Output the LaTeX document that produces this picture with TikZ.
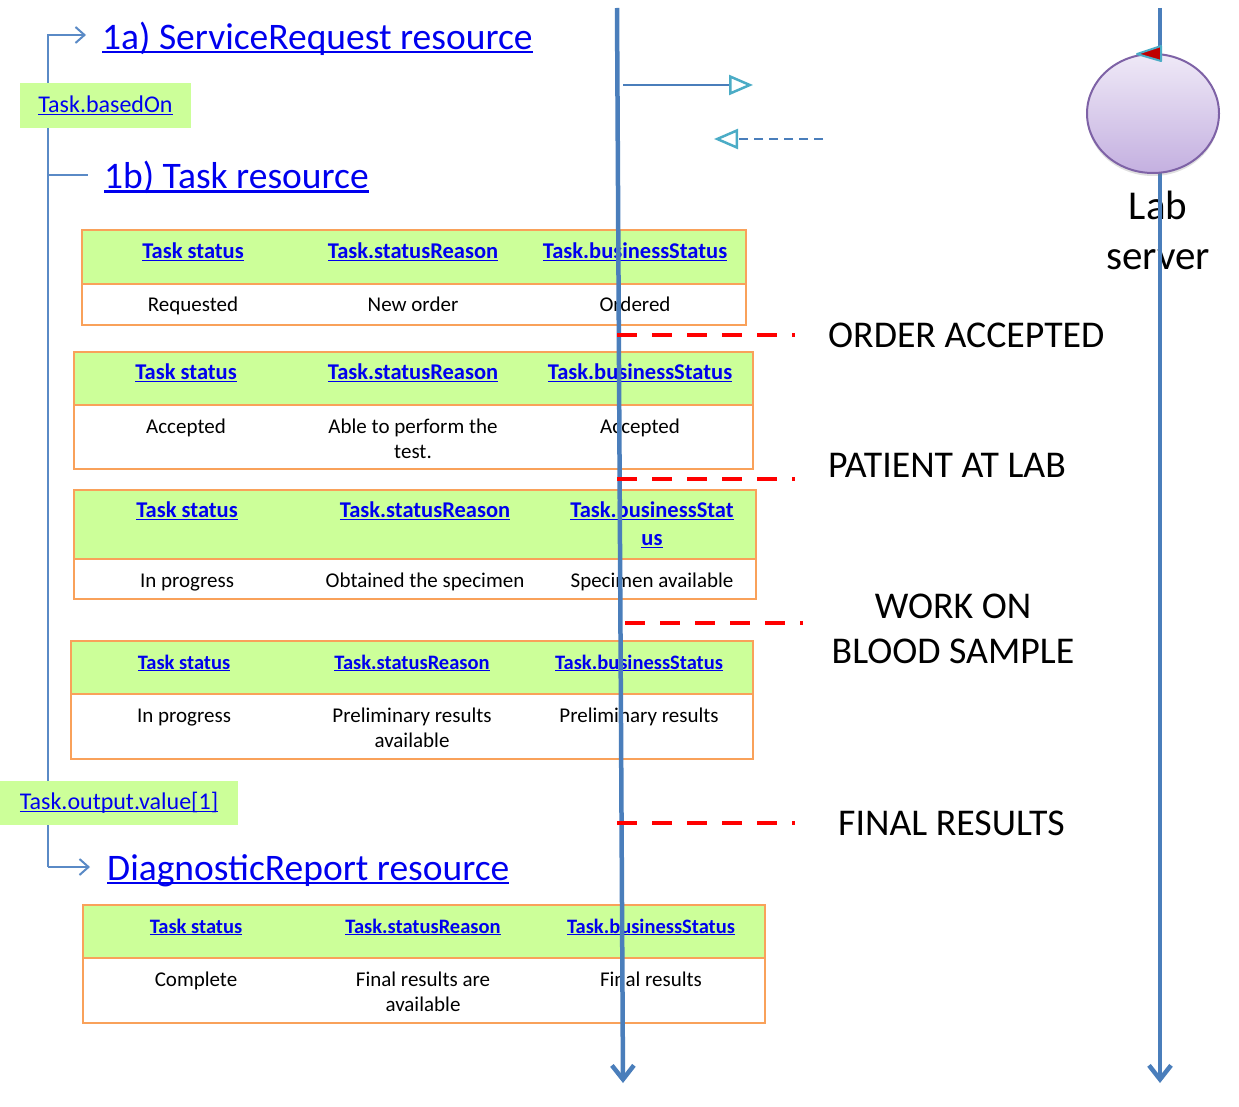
\documentclass[tikz,border=0pt]{standalone}
\usepackage{fontspec}
\setmainfont{Carlito}
\usetikzlibrary{arrows.meta,shapes.geometric,shadows}
\definecolor{lifeblue}{HTML}{4A7EBB}
\definecolor{treeblue}{HTML}{5A8AC6}
\definecolor{tipcyan}{HTML}{4BACC6}
\definecolor{linkblue}{HTML}{0000EE}
\definecolor{hdrgreen}{HTML}{CCFF99}
\definecolor{tblorange}{HTML}{F9A15A}
\definecolor{srvpurple}{HTML}{7E62A6}
\definecolor{srvtop}{HTML}{EFE9F7}
\definecolor{srvbot}{HTML}{C4B0E0}
\definecolor{tipred}{HTML}{C00000}
\newcommand{\lnk}[1]{\setbox0=\hbox{#1}\rlap{\rule[-0.11em]{\wd0}{0.065em}}\box0}
\newcommand{\ttlfont}{\fontsize{37.5}{45}\selectfont}
\newcommand{\reffont}{\fontsize{24}{29}\selectfont}
\newcommand{\hdrfont}{\fontsize{22.5}{28}\selectfont\bfseries}
\newcommand{\hdrsmall}{\fontsize{20.5}{25}\selectfont\bfseries}
\newcommand{\cellfont}{\fontsize{21}{25}\selectfont}
\newcommand{\phasefont}{\fontsize{37.8}{45}\selectfont}
\newcommand{\srvfont}{\fontsize{41}{50}\selectfont}
\begin{document}
\begin{tikzpicture}[x=1pt,y=-1pt,
  lifeline/.style={draw=lifeblue,line width=4.5pt,-{Straight Barb[length=14pt,width=22pt]}},
  treeline/.style={draw=treeblue,line width=2pt},
  treetip/.style={-{Straight Barb[length=9pt,width=16pt]}},
  msgline/.style={draw=lifeblue,line width=2.5pt,-{Triangle[length=24pt,width=20pt,color=tipcyan,fill=white,line width=2.5pt]}},
  phasedash/.style={draw=red,line width=4.5pt,dash pattern=on 20pt off 15pt},
  refbox/.style={fill=hdrgreen,text=linkblue,font=\reffont,inner sep=0pt},
  title/.style={text=linkblue,font=\ttlfont,inner sep=0pt,anchor=west},
  hdrcell/.style={draw=tblorange,fill=hdrgreen,line width=2pt},
  bodycell/.style={draw=tblorange,fill=white,line width=2pt},
  hdrtxt/.style={text=linkblue,align=center,inner sep=0pt},
  celltxt/.style={font=\cellfont,align=center,inner sep=0pt,yshift=-2.5pt},
  phase/.style={font=\phasefont,align=center,inner sep=0pt}]
\useasboundingbox (0,0) rectangle (1239,1107);
% reference tree
\coordinate (treetop) at (48,35);
\coordinate (treemid) at (48,175);
\coordinate (treebot) at (48,867);
\node[title] (srvreq) at (102,38.5) {\lnk{1a) ServiceRequest resource}};
\node[title] (taskres) at (104,177.5) {\lnk{1b) Task resource}};
\node[title] (diagrep) at (107,870.5) {\lnk{DiagnosticReport resource}};
\draw[treeline,treetip,shorten >=16pt] (treebot) -- (treetop) -- (treetop -| srvreq.west);
\draw[treeline,shorten >=16pt] (treemid) -- (treemid -| taskres.west);
\draw[treeline,treetip,shorten >=17pt] (treebot) -- (treebot -| diagrep.west);
\node[refbox,minimum width=171,minimum height=45] (basedon) at (105.5,105.5) {\lnk{Task.basedOn}};
\node[refbox,minimum width=238,minimum height=44] (outval) at (119,803) {\lnk{Task.output.value[1]}};
% status tables
\foreach \tb/\xa/\xb/\ya/\yb/\yc in {1/82/746/230/284/325,2/74/753/352/405/469,3/74/756/490/559/599,4/71/753/641/694/759,5/83/765/905/958/1023}{
  \draw[hdrcell] (\xa,\ya) rectangle (\xb,\yb);
  \draw[bodycell] (\xa,\yb) rectangle (\xb,\yc);
}
\foreach \tb/\hy/\xa/\xb/\hf in {1/252/193/413/\hdrfont,2/373/186/413/\hdrfont,3/511/187/425/\hdrfont,4/663/184/412/\hdrsmall,5/927/196/423/\hdrsmall}{
  \node[hdrtxt,font=\hf] (hs\tb) at (\xa,\hy) {\lnk{Task status}};
  \node[hdrtxt,font=\hf] (hr\tb) at (\xb,\hy) {\lnk{Task.statusReason}};
}
\foreach \tb/\hy/\xc/\hf in {1/252/635/\hdrfont,2/373/640/\hdrfont,4/663/639/\hdrsmall,5/927/651/\hdrsmall}{
  \node[hdrtxt,font=\hf] (hb\tb) at (\xc,\hy) {\lnk{Task.businessStatus}};
}
\node[hdrtxt,font=\hdrfont] (hb3) at (652,525) {\lnk{Task.businessStat}\\\lnk{us}};
\foreach \cx/\cy/\ct [count=\ci] in {193/304/Requested,413/304/New order,635/304/Ordered,
  186/426/Accepted,413/438.5/{Able to perform the\\test.},640/426/Accepted,
  187/580/In progress,425/580/Obtained the specimen,652/580/Specimen available,
  184/715/In progress,412/727.5/{Preliminary results\\available},639/715/Preliminary results,
  196/979/Complete,423/991.5/{Final results are\\available},651/979/Final results}{
  \node[celltxt] (cell\ci) at (\cx,\cy) {\strut\ct\strut};
}
% lab server
\node[font=\srvfont,align=center,inner sep=0pt] (srvlbl) at (1158,230) {Lab\\server};
\coordinate (cltop) at (617,8);
\coordinate (clbot) at (623,1083);
\coordinate (srvtopend) at (1160,8);
\coordinate (srvbotend) at (1160,1083);
\draw[lifeline] (cltop) -- (clbot);
\draw[lifeline] (srvtopend) -- (srvbotend);
\node[ellipse,draw=srvpurple,line width=2pt,top color=srvtop,bottom color=srvbot,minimum width=132,minimum height=119,
  drop shadow={shadow xshift=0pt,shadow yshift=-3pt,opacity=0.25}] (labsrv) at (1153,113.5) {};
\filldraw[fill=tipred,draw=tipcyan,line width=2pt,line join=round] (1161,46) -- (1161,61) -- (1137,54) -- cycle;
% messages
\coordinate (reqfrom) at (623,85);
\coordinate (reqto) at (753,85);
\coordinate (ackfrom) at (823,139);
\coordinate (ackto) at (714,139);
\draw[msgline] (reqfrom) -- (reqto);
\draw[msgline,dash pattern=on 9pt off 6pt] (ackfrom) -- (ackto);
% phases
\foreach \pn/\pa/\pb/\py in {1/617/795/335,2/617/795/479,3/625/803/623,4/617/795/823}{
  \coordinate (pd\pn a) at (\pa,\py);
  \coordinate (pd\pn b) at (\pb,\py);
  \draw[phasedash] (pd\pn a) -- (pd\pn b);
}
\node[phase,anchor=west] (ordacc) at (828,335) {ORDER ACCEPTED};
\node[phase,anchor=west] (patlab) at (828,465) {PATIENT AT LAB};
\node[phase] (worksmp) at (953,629) {WORK ON\\BLOOD SAMPLE};
\node[phase,anchor=west] (finres) at (838,823) {FINAL RESULTS};
\end{tikzpicture}
\end{document}
